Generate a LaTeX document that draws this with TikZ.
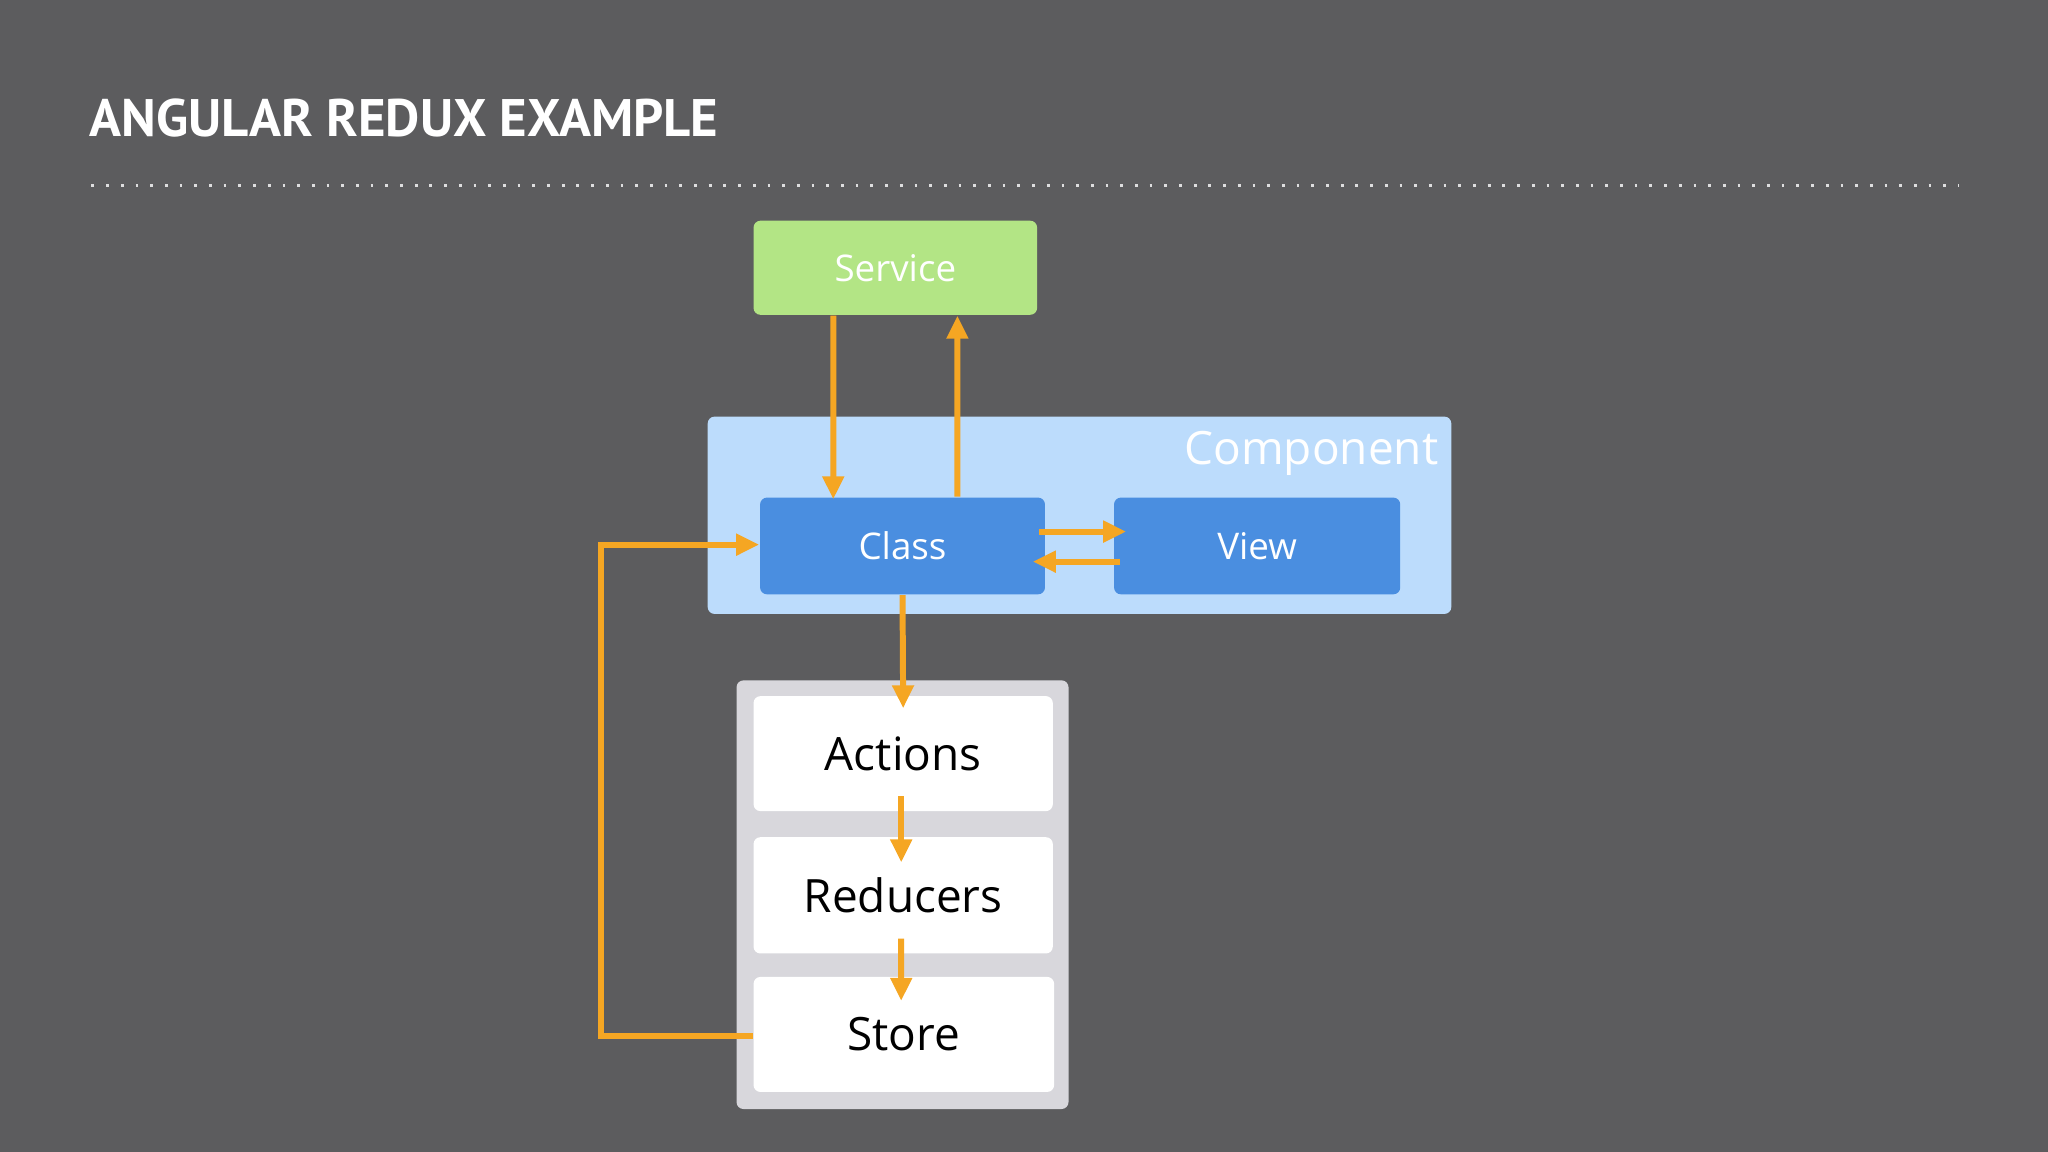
\documentclass[tikz,border=0pt]{standalone}
\usepackage{fontspec}
\setmainfont{Open Sans}
\newfontfamily\titlefont{PT Sans}
\usetikzlibrary{arrows.meta}
\definecolor{bg}{HTML}{5C5C5E}
\definecolor{svc}{HTML}{B3E585}
\definecolor{comp}{HTML}{BCDCFC}
\definecolor{cls}{HTML}{4A8EE0}
\definecolor{storebg}{HTML}{D8D7DC}
\definecolor{arr}{HTML}{F5A623}
\begin{document}
\begin{tikzpicture}[x=0.01cm,y=-0.01cm]
\tikzset{
  box/.style={draw=none,rounded corners=1.5pt,inner sep=0pt,font=\fontsize{8}{10}\selectfont},
  flow/.style={draw=arr,line width=1.3pt,-{Triangle[length=5pt,width=4.5pt]}}
}
\fill[bg] (0,0) rectangle (1568,882);
\useasboundingbox (0,0) rectangle (1568,882);
\node[anchor=west,text=white,inner sep=0pt] (title) at (68,90)
  {\resizebox{4.81cm}{!}{\titlefont\bfseries ANGULAR REDUX EXAMPLE}};
\draw[white!80!bg,line width=0.6pt,dash pattern=on 0.6pt off 2.6pt] (70,142) -- (1500,142);
% boxes
\node[box,fill=svc,text=white,minimum width=2.17cm,minimum height=0.72cm] (svc) at (685.5,205) {Service};
\node[box,fill=comp,minimum width=5.69cm,minimum height=1.51cm] (comp) at (826.5,394.5) {};
\node[text=white,font=\fontsize{10}{12}\selectfont] (complbl) at (1004,347) {Component};
\node[box,fill=cls,text=white,minimum width=2.18cm,minimum height=0.74cm] (cls) at (691,418) {Class};
\node[box,fill=cls,text=white,minimum width=2.19cm,minimum height=0.74cm] (view) at (962.5,418) {View};
\node[box,fill=storebg,minimum width=2.54cm,minimum height=3.28cm] (grp) at (691,685) {};
\node[box,fill=white,text=black,font=\fontsize{10}{12}\selectfont,minimum width=2.29cm,minimum height=0.88cm] (act) at (691.5,577) {Actions};
\node[box,fill=white,text=black,font=\fontsize{10}{12}\selectfont,minimum width=2.29cm,minimum height=0.89cm] (red) at (691.5,685.5) {Reducers};
\node[box,fill=white,text=black,font=\fontsize{10}{12}\selectfont,minimum width=2.30cm,minimum height=0.88cm] (sto) at (692,792) {Store};
% arrows
\draw[flow] ([xshift=-0.475cm]svc.south) -- ([xshift=-0.53cm,yshift=-0.02cm]cls.north);
\draw[flow] ([xshift=0.42cm]cls.north) -- ([xshift=0.475cm]svc.south);
\draw[flow] ([xshift=-0.05cm,yshift=0.11cm]cls.east) -- ([xshift=0.1cm,yshift=0.11cm]view.west);
\draw[flow] ([xshift=0.05cm,yshift=-0.12cm]view.west) -- ([xshift=-0.1cm,yshift=-0.12cm]cls.east);
\draw[flow] (cls.south) -- ([yshift=-0.1cm]act.north);
\draw[flow] ([xshift=-0.015cm,yshift=0.12cm]act.south) -- ([xshift=-0.015cm,yshift=-0.2cm]red.north);
\draw[flow] ([xshift=-0.015cm,yshift=0.12cm]red.south) -- ([xshift=-0.02cm,yshift=-0.19cm]sto.north);
\coordinate (c1) at (460,793);
\coordinate (c2) at (460,417);
\draw[flow] ([yshift=-0.01cm]sto.west) -- (c1) -- (c2) -- ([yshift=0.01cm]cls.west);
\end{tikzpicture}
\end{document}
